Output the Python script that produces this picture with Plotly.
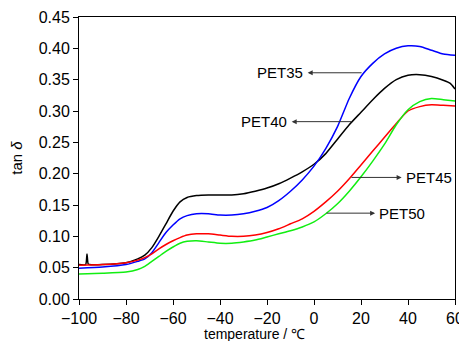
import plotly.graph_objects as go

# PET40 (black)
x_pet40 = [-100, -97.2, -96.6, -96.1, -95.5, -90, -80, -75, -72, -69, -66, -63, -60, -57, -54, -50, -45, -40,
           -35, -30, -25, -20, -15, -10, -5, 0, 5, 10, 15, 20, 25, 30, 35, 40, 45, 50, 55, 58, 60]
y_pet40 = [0.055, 0.055, 0.072, 0.056, 0.055, 0.055, 0.058, 0.064, 0.070, 0.082, 0.100, 0.120, 0.140, 0.155,
           0.162, 0.165, 0.166, 0.166, 0.166, 0.168, 0.172, 0.177, 0.184, 0.193, 0.203, 0.215, 0.232, 0.255,
           0.278, 0.298, 0.318, 0.336, 0.350, 0.357, 0.358, 0.355, 0.349, 0.344, 0.335]

# Common temperature grid for other series
x_temp = [-100, -90, -80, -75, -72, -69, -66, -63, -60, -57, -54, -50, -45, -40, -35, -30, -25, -20, -15,
          -10, -5, 0, 5, 10, 15, 20, 25, 30, 35, 40, 45, 50, 55, 60]

y_pet35 = [0.049, 0.051, 0.055, 0.060, 0.064, 0.074, 0.090, 0.106, 0.118, 0.128, 0.133, 0.136, 0.136, 0.134,
           0.134, 0.136, 0.140, 0.146, 0.157, 0.172, 0.190, 0.212, 0.240, 0.275, 0.320, 0.355, 0.376, 0.391,
           0.400, 0.404, 0.403, 0.397, 0.391, 0.389]

y_pet45 = [0.054, 0.055, 0.058, 0.062, 0.066, 0.072, 0.080, 0.087, 0.093, 0.098, 0.102, 0.104, 0.104, 0.102,
           0.100, 0.100, 0.102, 0.106, 0.112, 0.120, 0.128, 0.140, 0.155, 0.172, 0.192, 0.214, 0.236, 0.258,
           0.280, 0.300, 0.307, 0.310, 0.309, 0.308]

y_pet50 = [0.040, 0.041, 0.043, 0.047, 0.052, 0.060, 0.068, 0.076, 0.083, 0.089, 0.092, 0.093, 0.091, 0.089,
           0.089, 0.091, 0.094, 0.099, 0.104, 0.109, 0.115, 0.123, 0.136, 0.152, 0.172, 0.195, 0.220, 0.247,
           0.278, 0.302, 0.315, 0.320, 0.318, 0.316]

# Label annotations: (text, arrow tail x, arrow head x, y)
labels = ["PET35", "PET40", "PET45", "PET50"]
arrow_tail_x = [20.9, 16.6, 15.3, 4.7]
arrow_head_x = [-2.7, -9.5, 37.3, 26.0]
arrow_y = [0.361, 0.283, 0.194, 0.137]

x_title = "temperature / ℃"
y_title = "tan <i>δ</i>"

font_family = "Liberation Sans, Arial, sans-serif"

fig = go.Figure()
series = [
    (x_pet40, y_pet40, "#000000", "PET40"),
    (x_temp, y_pet35, "#0000ff", "PET35"),
    (x_temp, y_pet45, "#ff0000", "PET45"),
    (x_temp, y_pet50, "#11ee11", "PET50"),
]
for xs, ys, col, name in series:
    fig.add_trace(go.Scatter(x=xs, y=ys, mode="lines", name=name,
                             line=dict(color=col, width=1.5, shape="spline", smoothing=0.6)))

annotations = []
for txt, xt, xh, yy in zip(labels, arrow_tail_x, arrow_head_x, arrow_y):
    annotations.append(dict(x=xh, y=yy, ax=xt, ay=yy, xref="x", yref="y", axref="x", ayref="y",
                            text="", showarrow=True, arrowhead=2, arrowsize=1, arrowwidth=1,
                            arrowcolor="#333333"))
    if xh < xt:
        annotations.append(dict(x=xh, y=yy, xref="x", yref="y", text=txt, showarrow=False,
                                xanchor="right", xshift=-3, yanchor="middle",
                                font=dict(family=font_family, size=15, color="black")))
    else:
        annotations.append(dict(x=xh, y=yy, xref="x", yref="y", text=txt, showarrow=False,
                                xanchor="left", xshift=2, yanchor="middle",
                                font=dict(family=font_family, size=15, color="black")))

# x-axis title placed as an annotation just below the tick labels
annotations.append(dict(x=0.468, y=0, xref="paper", yref="paper", text=x_title, showarrow=False,
                        xanchor="center", yanchor="top", yshift=-25,
                        font=dict(family=font_family, size=14, color="black")))

# The page body adds an 8px offset; sizes/margins compensate for it.
fig.update_layout(
    width=459, height=333,
    margin=dict(l=71, r=12, t=9, b=42),
    plot_bgcolor="white", paper_bgcolor="white",
    showlegend=False,
    annotations=annotations,
    font=dict(family=font_family, color="black"),
    xaxis=dict(range=[-100, 60], dtick=20, tick0=-100, showgrid=False, zeroline=False,
               showline=True, linecolor="black", linewidth=1, mirror=True,
               ticks="outside", ticklen=5, tickcolor="black",
               tickfont=dict(size=16, family=font_family),
               automargin=False),
    yaxis=dict(range=[0, 0.45], dtick=0.05, tick0=0, tickformat=".2f", showgrid=False, zeroline=False,
               showline=True, linecolor="black", linewidth=1, mirror=True,
               ticks="outside", ticklen=5, tickcolor="black",
               tickfont=dict(size=16, family=font_family),
               title=dict(text=y_title, font=dict(size=15, family=font_family), standoff=13),
               automargin=False),
)

fig.write_html("out.html")
